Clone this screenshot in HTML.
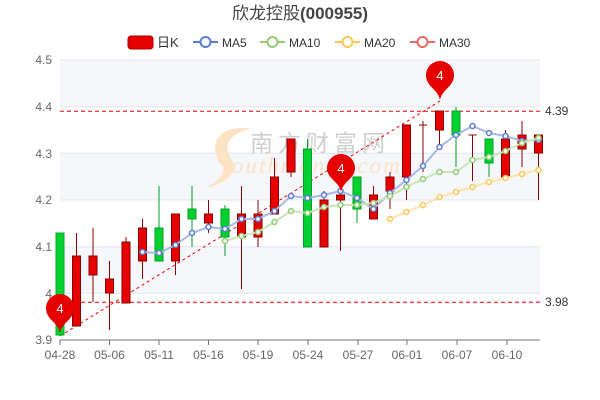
<!DOCTYPE html>
<html><head><meta charset="utf-8"><style>
html,body{margin:0;padding:0;background:#fff;}
svg{display:block;font-family:"Liberation Sans","Noto Sans CJK SC",sans-serif;}
</style></head><body>
<svg width="600" height="400" viewBox="0 0 600 400" xmlns="http://www.w3.org/2000/svg">
<rect width="600" height="400" fill="#fff"/>
<text x="300" y="19" text-anchor="middle" font-size="17" fill="#444">欣龙控股<tspan font-weight="bold">(000955)</tspan></text>
<!-- legend -->
<rect x="128" y="36" width="25" height="13" rx="3" fill="#e60000" stroke="#a00" stroke-width="1"/>
<text x="157" y="47" font-size="13" fill="#333">日K</text>
<line x1="193" y1="42" x2="218" y2="42" stroke="#5b7bd5" stroke-width="2"/><circle cx="205.5" cy="42" r="5" fill="#fff" stroke="#5b7bd5" stroke-width="2"/>
<text x="222" y="47" font-size="12" fill="#333">MA5</text>
<line x1="260" y1="42" x2="285" y2="42" stroke="#91cc75" stroke-width="2"/><circle cx="272.5" cy="42" r="5" fill="#fff" stroke="#91cc75" stroke-width="2"/>
<text x="289" y="47" font-size="12" fill="#333">MA10</text>
<line x1="335" y1="42" x2="360" y2="42" stroke="#fac858" stroke-width="2"/><circle cx="347.5" cy="42" r="5" fill="#fff" stroke="#fac858" stroke-width="2"/>
<text x="364" y="47" font-size="12" fill="#333">MA20</text>
<line x1="410" y1="42" x2="435" y2="42" stroke="#ee6666" stroke-width="2"/><circle cx="422.5" cy="42" r="5" fill="#fff" stroke="#ee6666" stroke-width="2"/>
<text x="439" y="47" font-size="12" fill="#333">MA30</text>
<!-- bands -->
<rect x="60" y="60" width="480" height="46.7" fill="#f5f7fb"/>
<rect x="60" y="153.3" width="480" height="46.7" fill="#f5f7fb"/>
<rect x="60" y="246.7" width="480" height="46.7" fill="#f5f7fb"/>
<g stroke="#e0e6f1" stroke-width="1">
<line x1="60" y1="60" x2="540" y2="60"/><line x1="60" y1="106.7" x2="540" y2="106.7"/>
<line x1="60" y1="153.3" x2="540" y2="153.3"/><line x1="60" y1="200" x2="540" y2="200"/>
<line x1="60" y1="246.7" x2="540" y2="246.7"/><line x1="60" y1="293.3" x2="540" y2="293.3"/>
</g>
<g font-size="12" fill="#666" text-anchor="end">
<text x="52" y="64">4.5</text><text x="52" y="111">4.4</text><text x="52" y="158">4.3</text>
<text x="52" y="204">4.2</text><text x="52" y="251">4.1</text><text x="52" y="298">4</text><text x="52" y="344">3.9</text>
</g>
<!-- watermark -->
<path d="M240,128 C205,130 215,160 222,165 C228,172 215,185 203,188 C225,185 240,172 232,160 C224,148 225,135 252,128 Z" fill="#fbe3c4"/>
<text x="250" y="151" font-size="23" fill="#cfcfcf" letter-spacing="5">南方财富网</text>
<text x="232" y="173" font-size="23" font-style="italic" fill="#f9e2c6" font-family="Liberation Serif,serif" letter-spacing="2">outhmoney.com</text>
<!-- axis -->
<line x1="60" y1="340" x2="540" y2="340" stroke="#6e7079"/>
<g stroke="#6e7079"><line x1="60" y1="340" x2="60" y2="345"/><line x1="109.5" y1="340" x2="109.5" y2="345"/><line x1="159" y1="340" x2="159" y2="345"/><line x1="208.5" y1="340" x2="208.5" y2="345"/><line x1="258" y1="340" x2="258" y2="345"/><line x1="308" y1="340" x2="308" y2="345"/><line x1="358" y1="340" x2="358" y2="345"/><line x1="407" y1="340" x2="407" y2="345"/><line x1="457" y1="340" x2="457" y2="345"/><line x1="507" y1="340" x2="507" y2="345"/></g>
<g font-size="12" fill="#666" text-anchor="middle">
<text x="60" y="359">04-28</text><text x="109.5" y="359">05-06</text><text x="159" y="359">05-11</text><text x="208.5" y="359">05-16</text><text x="258" y="359">05-19</text><text x="308" y="359">05-24</text><text x="358" y="359">05-27</text><text x="407" y="359">06-01</text><text x="457" y="359">06-07</text><text x="507" y="359">06-10</text>
</g>
<!-- dashed lines -->
<line x1="60" y1="111.3" x2="540" y2="111.3" stroke="#e00" stroke-dasharray="4,3"/>
<line x1="60" y1="302.3" x2="540" y2="302.3" stroke="#e00" stroke-dasharray="4,3"/>
<text x="545" y="115" font-size="12" fill="#333">4.39</text>
<text x="545" y="306" font-size="12" fill="#333">3.98</text>
<line x1="60" y1="336" x2="440" y2="101" stroke="#e00" stroke-dasharray="3,3"/>
<!-- candles -->
<g stroke-width="1">
<g stroke="#00b020" fill="#00d030"><line x1="60" y1="233" x2="60" y2="336"/><rect x="56" y="233" width="8" height="102"/></g>
<g stroke="#8b0000" fill="#e60000">
<line x1="76.5" y1="233" x2="76.5" y2="326"/><rect x="72.5" y="256" width="8" height="70"/>
<line x1="93" y1="228" x2="93" y2="302"/><rect x="89" y="256" width="8" height="19"/>
<line x1="109.5" y1="261" x2="109.5" y2="330"/><rect x="105.5" y="279" width="8" height="14"/>
<line x1="126" y1="237" x2="126" y2="303"/><rect x="122" y="242" width="8" height="61"/>
<line x1="142.5" y1="219" x2="142.5" y2="279"/><rect x="138.5" y="228" width="8" height="33"/>
</g>
<g stroke="#00a020" fill="#00d030"><line x1="159" y1="186" x2="159" y2="261"/><rect x="155" y="228" width="8" height="33"/></g>
<g stroke="#8b0000" fill="#e60000"><line x1="175.5" y1="214" x2="175.5" y2="275"/><rect x="171.5" y="214" width="8" height="47"/></g>
<g stroke="#00a020" fill="#00d030"><line x1="192" y1="186" x2="192" y2="247"/><rect x="188" y="209" width="8" height="10"/></g>
<g stroke="#8b0000" fill="#e60000"><line x1="208.5" y1="200" x2="208.5" y2="233"/><rect x="204.5" y="214" width="8" height="9"/></g>
<g stroke="#00a020" fill="#00d030"><line x1="225" y1="205" x2="225" y2="256"/><rect x="221" y="209" width="8" height="28"/></g>
<g stroke="#8b0000" fill="#e60000">
<line x1="241.5" y1="186" x2="241.5" y2="289"/><rect x="237.5" y="214" width="8" height="23"/>
<line x1="258" y1="200" x2="258" y2="247"/><rect x="254" y="214" width="8" height="23"/>
<line x1="274.5" y1="158" x2="274.5" y2="214"/><rect x="270.5" y="177" width="8" height="37"/>
<line x1="291" y1="139" x2="291" y2="177"/><rect x="287" y="139" width="8" height="33"/>
</g>
<g stroke="#00a020" fill="#00d030"><line x1="307.5" y1="139" x2="307.5" y2="247"/><rect x="303.5" y="149" width="8" height="98"/></g>
<g stroke="#8b0000" fill="#e60000">
<line x1="324" y1="191" x2="324" y2="247"/><rect x="320" y="200" width="8" height="47"/>
<line x1="340.5" y1="191" x2="340.5" y2="251"/><rect x="336.5" y="195" width="8" height="5"/>
</g>
<g stroke="#00a020" fill="#00d030"><line x1="357" y1="177" x2="357" y2="223"/><rect x="353" y="177" width="8" height="32"/></g>
<g stroke="#8b0000" fill="#e60000">
<line x1="373.5" y1="186" x2="373.5" y2="219"/><rect x="369.5" y="195" width="8" height="24"/>
<line x1="390" y1="172" x2="390" y2="209"/><rect x="386" y="177" width="8" height="14"/>
<line x1="406.5" y1="125" x2="406.5" y2="200"/><rect x="402.5" y="125" width="8" height="52"/>
<line x1="423" y1="121" x2="423" y2="172"/><line x1="419" y1="125" x2="427" y2="125"/>
<line x1="439.5" y1="111" x2="439.5" y2="144"/><rect x="435.5" y="111" width="8" height="19"/>
</g>
<g stroke="#00a020" fill="#00d030"><line x1="456" y1="107" x2="456" y2="167"/><rect x="452" y="111" width="8" height="24"/></g>
<g stroke="#8b0000" fill="#e60000"><line x1="472.5" y1="135" x2="472.5" y2="181"/><line x1="468.5" y1="135" x2="476.5" y2="135"/></g>
<g stroke="#00a020" fill="#00d030"><line x1="489" y1="139" x2="489" y2="177"/><rect x="485" y="139" width="8" height="24"/></g>
<g stroke="#8b0000" fill="#e60000">
<line x1="505.5" y1="130" x2="505.5" y2="177"/><rect x="501.5" y="139" width="8" height="38"/>
<line x1="522" y1="121" x2="522" y2="167"/><rect x="518" y="135" width="8" height="14"/>
<line x1="538.5" y1="135" x2="538.5" y2="200"/><rect x="534.5" y="135" width="8" height="18"/>
</g>
</g>
<!-- MAs -->
<g fill="none" stroke-width="2" stroke-linejoin="round">
<polyline stroke="#a9b8e6" points="142.5,252 159,253 175.5,245 192,233 208.5,227 225,229 241.5,219 258,219 274.5,211 291,196 307.5,198 324,195 340.5,191 357,198 373.5,209 390,193 406.5,180 423,166 439.5,147 456,135 472.5,126 489,133 505.5,136 522,141 538.5,140"/>
<polyline stroke="#c8e6b8" points="225,241 241.5,236 258,232 274.5,222 291,211 307.5,213 324,207 340.5,205 357,205 373.5,203 390,196 406.5,187 423,179 439.5,172 456,172 472.5,160 489,157 505.5,151 522,143 538.5,138"/>
<polyline stroke="#fde3a8" points="390,219 406.5,212 423,205 439.5,197 456,192 472.5,187 489,182 505.5,178 522,174 538.5,170"/>
</g>
<g fill="#fff" stroke-width="1.5">
<g stroke="#5b7bd5">
<circle cx="142.5" cy="252" r="2.5"/><circle cx="159" cy="253" r="2.5"/><circle cx="175.5" cy="245" r="2.5"/><circle cx="192" cy="233" r="2.5"/><circle cx="208.5" cy="227" r="2.5"/><circle cx="225" cy="229" r="2.5"/><circle cx="241.5" cy="219" r="2.5"/><circle cx="258" cy="219" r="2.5"/><circle cx="274.5" cy="211" r="2.5"/><circle cx="291" cy="196" r="2.5"/><circle cx="307.5" cy="198" r="2.5"/><circle cx="324" cy="195" r="2.5"/><circle cx="340.5" cy="191" r="2.5"/><circle cx="357" cy="198" r="2.5"/><circle cx="373.5" cy="209" r="2.5"/><circle cx="390" cy="193" r="2.5"/><circle cx="406.5" cy="180" r="2.5"/><circle cx="423" cy="166" r="2.5"/><circle cx="439.5" cy="147" r="2.5"/><circle cx="456" cy="135" r="2.5"/><circle cx="472.5" cy="126" r="2.5"/><circle cx="489" cy="133" r="2.5"/><circle cx="505.5" cy="136" r="2.5"/><circle cx="522" cy="141" r="2.5"/><circle cx="538.5" cy="140" r="2.5"/>
</g>
<g stroke="#91cc75">
<circle cx="225" cy="241" r="2.5"/><circle cx="241.5" cy="236" r="2.5"/><circle cx="258" cy="232" r="2.5"/><circle cx="274.5" cy="222" r="2.5"/><circle cx="291" cy="211" r="2.5"/><circle cx="307.5" cy="213" r="2.5"/><circle cx="324" cy="207" r="2.5"/><circle cx="340.5" cy="205" r="2.5"/><circle cx="357" cy="205" r="2.5"/><circle cx="373.5" cy="203" r="2.5"/><circle cx="390" cy="196" r="2.5"/><circle cx="406.5" cy="187" r="2.5"/><circle cx="423" cy="179" r="2.5"/><circle cx="439.5" cy="172" r="2.5"/><circle cx="456" cy="172" r="2.5"/><circle cx="472.5" cy="160" r="2.5"/><circle cx="489" cy="157" r="2.5"/><circle cx="505.5" cy="151" r="2.5"/><circle cx="522" cy="143" r="2.5"/><circle cx="538.5" cy="138" r="2.5"/>
</g>
<g stroke="#fac858">
<circle cx="390" cy="219" r="2.5"/><circle cx="406.5" cy="212" r="2.5"/><circle cx="423" cy="205" r="2.5"/><circle cx="439.5" cy="197" r="2.5"/><circle cx="456" cy="192" r="2.5"/><circle cx="472.5" cy="187" r="2.5"/><circle cx="489" cy="182" r="2.5"/><circle cx="505.5" cy="178" r="2.5"/><circle cx="522" cy="174" r="2.5"/><circle cx="538.5" cy="170" r="2.5"/>
</g>
</g>
<!-- pins -->
<g fill="#e60000">
<path d="M60,333 C58,322 46,320 46,308 A14,14 0 1 1 74,308 C74,320 62,322 60,333 Z"/>
<path d="M341,192 C339,181 327,179 327,168 A14,14 0 1 1 355,168 C355,179 343,181 341,192 Z"/>
<path d="M440,100 C438,89 426,87 426,75 A14,14 0 1 1 454,75 C454,87 442,89 440,100 Z"/>
</g>
<g fill="#fff" font-size="13" text-anchor="middle">
<text x="60" y="313">4</text><text x="341" y="173">4</text><text x="440" y="80">4</text>
</g>
</svg>
</body></html>
